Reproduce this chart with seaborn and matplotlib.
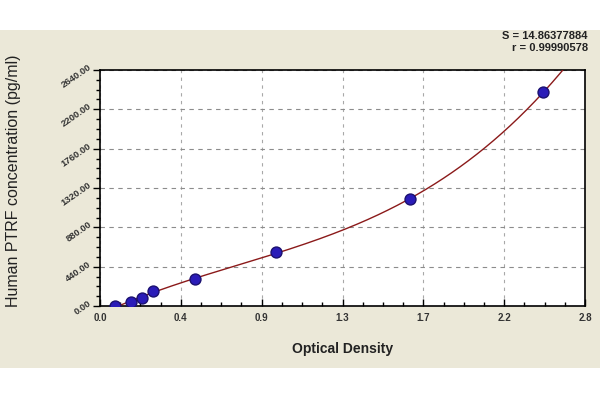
import numpy as np
import pandas as pd
import matplotlib
matplotlib.use("Agg")
import matplotlib.pyplot as plt
import matplotlib.patches as mpatches
from matplotlib.ticker import AutoMinorLocator
import seaborn as sns

# Data
od = [0.087, 0.177, 0.241, 0.305, 0.546, 1.018, 1.79, 2.559]
conc = [3, 41, 86, 164, 302, 601, 1197, 2391]

x_tick_pos = [0.0, 2.8 / 6, 2 * 2.8 / 6, 3 * 2.8 / 6, 4 * 2.8 / 6, 5 * 2.8 / 6, 2.8]
x_tick_labels = ["0.0", "0.4", "0.9", "1.3", "1.7", "2.2", "2.8"]
y_ticks = [0, 440, 880, 1320, 1760, 2200, 2640]
y_tick_labels = ["0.00", "440.00", "880.00", "1320.00", "1760.00", "2200.00", "2640.00"]

stats_text = "S = 14.86377884\nr = 0.99990578"

sns.set_theme(style="white")
plt.rcParams["font.family"] = ["Liberation Sans", "DejaVu Sans"]

fig = plt.figure(figsize=(6, 4), dpi=100)
fig.patch.set_facecolor("white")
bg = mpatches.Rectangle((0, 1 - 368 / 400), 1, (368 - 30) / 400, transform=fig.transFigure,
                        facecolor="#ebe8d8", edgecolor="none", zorder=-10)
fig.patches.append(bg)

ax = fig.add_axes([100 / 600, 1 - 306 / 400, 485 / 600, 236 / 400])
ax.set_facecolor("white")

# fitted curve (cubic fit of the standards)
coef = np.polyfit(od, conc, 3)
xs = np.linspace(0.06, 2.8, 400)
ys = np.polyval(coef, xs)
mask = ys <= 2660
curve = pd.DataFrame({"x": xs[mask], "y": ys[mask]})
sns.lineplot(data=curve, x="x", y="y", ax=ax, color="#8b1a1a", lw=1.0, zorder=3)

pts = pd.DataFrame({"x": od, "y": conc})
sns.scatterplot(data=pts, x="x", y="y", ax=ax, s=62, marker="o",
                color="#2a1cb8", edgecolor="#1a1070", linewidth=1.0, zorder=4)

ax.set_xlim(0, 2.8)
ax.set_ylim(0, 2640)
ax.set_xticks(x_tick_pos)
ax.set_xticklabels(x_tick_labels, fontsize=7, fontweight="bold", color="#333333")
ax.set_yticks(y_ticks)
ax.set_yticklabels(y_tick_labels, fontsize=6.8, fontweight="bold", color="#333333",
                   rotation=35, rotation_mode="anchor", ha="right", va="bottom")
ax.xaxis.set_minor_locator(AutoMinorLocator(4))
ax.yaxis.set_minor_locator(AutoMinorLocator(4))
ax.tick_params(axis="x", which="major", direction="in", length=5, width=1, color="black", pad=5, bottom=True)
ax.tick_params(axis="x", which="minor", direction="in", length=3, width=1, color="black", bottom=True)
ax.tick_params(axis="y", which="major", direction="out", length=5, width=1, color="black", pad=0, left=True)
ax.tick_params(axis="y", which="minor", direction="out", length=3, width=1, color="black", left=True)
for s in ax.spines.values():
    s.set_color("black")
    s.set_linewidth(1.2)

ax.grid(True, axis="y", which="major", linestyle=(0, (4, 4)), color="#8c8c8c", linewidth=0.8)
ax.grid(True, axis="x", which="major", linestyle=(0, (3, 4)), color="#a8a8a8", linewidth=0.8)

ax.set_xlabel("Optical Density", fontsize=10, fontweight="bold", color="#222222", labelpad=14)
ax.set_ylabel("Human PTRF concentration (pg/ml)", fontsize=11.5, color="#222222")
ax.yaxis.set_label_coords(-79 / 485, 0.53)

fig.text(588 / 600, 1 - 42 / 400, stats_text, ha="right", va="center", fontsize=8,
         fontweight="bold", color="#222222", linespacing=1.15)

fig.savefig("out.png", dpi=100, facecolor=fig.get_facecolor())
